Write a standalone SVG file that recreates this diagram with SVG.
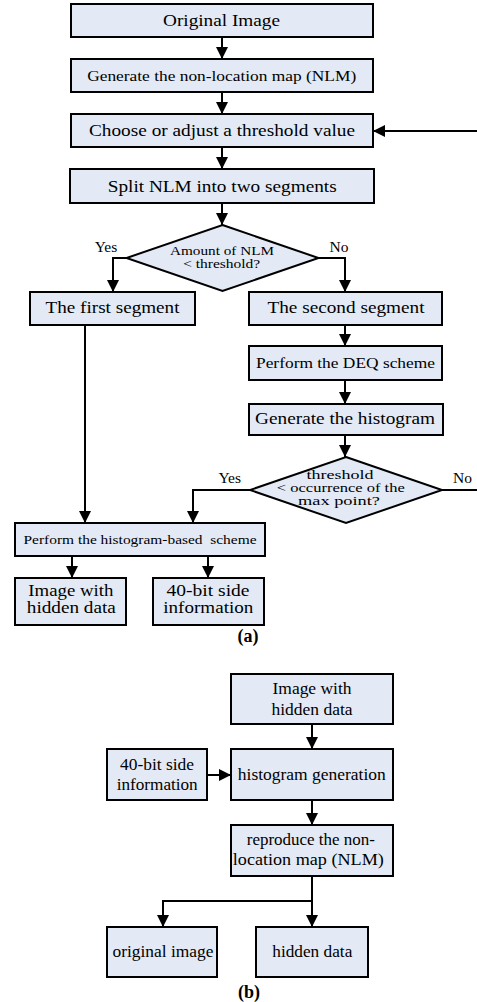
<svg xmlns="http://www.w3.org/2000/svg" width="477" height="1002" viewBox="0 0 477 1002">
<style>
.box{fill:#e3eaf5;stroke:#000;stroke-width:2}
.c{fill:none;stroke:#000;stroke-width:2}
text{font-family:"Liberation Serif","Tinos","Times New Roman",Times,serif;fill:#000;text-anchor:middle}
.l{font-size:17.5px}
.t{font-size:16px}
.m{font-size:15.5px}
.s{font-size:13.5px}
.b{font-size:18px;font-weight:bold}
</style>
<defs>
<marker id="ah" markerUnits="userSpaceOnUse" markerWidth="12" markerHeight="12" refX="12" refY="6" orient="auto">
<path d="M0,0 L12,6 L0,12 z" fill="#000"/>
</marker>
</defs>
<rect width="477" height="1002" fill="#fff"/>
<g id="connectors">
<path class="c" d="M222,37 V59" marker-end="url(#ah)"/>
<path class="c" d="M222,92 V114" marker-end="url(#ah)"/>
<path class="c" d="M222,147 V169" marker-end="url(#ah)"/>
<path class="c" d="M477,131 H373" marker-end="url(#ah)"/>
<path class="c" d="M222,203 V225" marker-end="url(#ah)"/>
<path class="c" d="M127,258 H113 V292" marker-end="url(#ah)"/>
<path class="c" d="M318,258 H345 V292" marker-end="url(#ah)"/>
<path class="c" d="M345,325 V346" marker-end="url(#ah)"/>
<path class="c" d="M345,380 V404" marker-end="url(#ah)"/>
<path class="c" d="M345,435 V457" marker-end="url(#ah)"/>
<path class="c" d="M442,490 H477"/>
<path class="c" d="M250,490 H193 V523" marker-end="url(#ah)"/>
<path class="c" d="M85,325 V523" marker-end="url(#ah)"/>
<path class="c" d="M72,556 V578" marker-end="url(#ah)"/>
<path class="c" d="M208,556 V578" marker-end="url(#ah)"/>
<path class="c" d="M312,724 V749" marker-end="url(#ah)"/>
<path class="c" d="M207,775 H231" marker-end="url(#ah)"/>
<path class="c" d="M312,800 V825" marker-end="url(#ah)"/>
<path class="c" d="M312,876 V927" marker-end="url(#ah)"/>
<path class="c" d="M312,901 H163 V927" marker-end="url(#ah)"/>
</g>
<g id="n-original">
<rect class="box" x="71" y="4" width="302" height="33"/>
<text class="l" x="221.5" y="26" textLength="117" lengthAdjust="spacingAndGlyphs">Original Image</text>
</g>
<g id="n-nlm">
<rect class="box" x="71" y="59" width="302" height="33"/>
<text class="m" x="221.7" y="81" textLength="269" lengthAdjust="spacingAndGlyphs">Generate the non-location map (NLM)</text>
</g>
<g id="n-choose">
<rect class="box" x="71" y="114" width="302" height="33"/>
<text class="l" x="222" y="136" textLength="266" lengthAdjust="spacingAndGlyphs">Choose or adjust a threshold value</text>
</g>
<g id="n-split">
<rect class="box" x="70" y="169" width="304" height="34"/>
<text class="l" x="222.2" y="191.5" textLength="229" lengthAdjust="spacingAndGlyphs">Split NLM into two segments</text>
</g>
<g id="n-dec1">
<polygon class="box" points="222.5,225 318.5,258 222.5,291 126.5,258"/>
<text class="s" x="222" y="255" textLength="104" lengthAdjust="spacingAndGlyphs">Amount of NLM</text>
<text class="s" x="221.7" y="268" textLength="77" lengthAdjust="spacingAndGlyphs">&lt; threshold?</text>
<text class="m" x="106" y="252">Yes</text>
<text class="m" x="339" y="252">No</text>
</g>
<g id="n-first">
<rect class="box" x="30" y="292" width="165" height="33"/>
<text class="l" x="112.5" y="312.5" textLength="134" lengthAdjust="spacingAndGlyphs">The first segment</text>
</g>
<g id="n-second">
<rect class="box" x="249" y="292" width="193" height="33"/>
<text class="l" x="346" y="312.5" textLength="157" lengthAdjust="spacingAndGlyphs">The second segment</text>
</g>
<g id="n-deq">
<rect class="box" x="249" y="346" width="193" height="34"/>
<text class="m" x="345.5" y="367.5" textLength="179" lengthAdjust="spacingAndGlyphs">Perform the DEQ scheme</text>
</g>
<g id="n-hist">
<rect class="box" x="249" y="404" width="194" height="31"/>
<text class="l" x="345" y="423.5" textLength="180" lengthAdjust="spacingAndGlyphs">Generate the histogram</text>
</g>
<g id="n-dec2">
<polygon class="box" points="346,457 442,490 346,523 250,490"/>
<text class="s" x="340" y="479" textLength="67" lengthAdjust="spacingAndGlyphs">threshold</text>
<text class="s" x="340.8" y="492.3" textLength="128" lengthAdjust="spacingAndGlyphs">&lt; occurrence of the</text>
<text class="s" x="339" y="505.3" textLength="82" lengthAdjust="spacingAndGlyphs">max point?</text>
<text class="m" x="229.7" y="483.3">Yes</text>
<text class="m" x="462.5" y="483.3">No</text>
</g>
<g id="n-hbs">
<rect class="box" x="15" y="523" width="250" height="33"/>
<text class="s" x="140" y="544" textLength="233" lengthAdjust="spacingAndGlyphs" xml:space="preserve">Perform the histogram-based  scheme</text>
</g>
<g id="n-imghid-a">
<rect class="box" x="15" y="578" width="111" height="47"/>
<text class="t" x="70.8" y="596" textLength="85" lengthAdjust="spacingAndGlyphs">Image with</text>
<text class="t" x="71.3" y="613.3" textLength="89" lengthAdjust="spacingAndGlyphs">hidden data</text>
</g>
<g id="n-side-a">
<rect class="box" x="153" y="578" width="111" height="47"/>
<text class="t" x="208" y="596" textLength="83" lengthAdjust="spacingAndGlyphs">40-bit side</text>
<text class="t" x="208.3" y="613.3" textLength="90" lengthAdjust="spacingAndGlyphs">information</text>
</g>
<text class="b" x="248" y="642">(a)</text>
<g id="n-imghid-b">
<rect class="box" x="231" y="674" width="162" height="50"/>
<text class="t" x="312" y="694.3" textLength="79" lengthAdjust="spacingAndGlyphs">Image with</text>
<text class="t" x="312" y="715" textLength="81" lengthAdjust="spacingAndGlyphs">hidden data</text>
</g>
<g id="n-side-b">
<rect class="box" x="107" y="749" width="100" height="51"/>
<text class="t" x="157" y="770" textLength="74" lengthAdjust="spacingAndGlyphs">40-bit side</text>
<text class="t" x="157.2" y="790" textLength="81" lengthAdjust="spacingAndGlyphs">information</text>
</g>
<g id="n-histgen">
<rect class="box" x="231" y="749" width="162" height="51"/>
<text class="l" x="311.8" y="780" textLength="148" lengthAdjust="spacingAndGlyphs">histogram generation</text>
</g>
<g id="n-repro">
<rect class="box" x="231" y="825" width="162" height="51"/>
<text class="t" x="310.8" y="845" textLength="128" lengthAdjust="spacingAndGlyphs">reproduce the non-</text>
<text class="t" x="308.3" y="865" textLength="151" lengthAdjust="spacingAndGlyphs">location map (NLM)</text>
</g>
<g id="n-origimg">
<rect class="box" x="107" y="927" width="110" height="50"/>
<text class="l" x="163" y="957.3" textLength="101" lengthAdjust="spacingAndGlyphs">original image</text>
</g>
<g id="n-hidden">
<rect class="box" x="256" y="927" width="112" height="50"/>
<text class="l" x="312.3" y="957.3" textLength="80" lengthAdjust="spacingAndGlyphs">hidden data</text>
</g>
<text class="b" x="249" y="998">(b)</text>
</svg>
